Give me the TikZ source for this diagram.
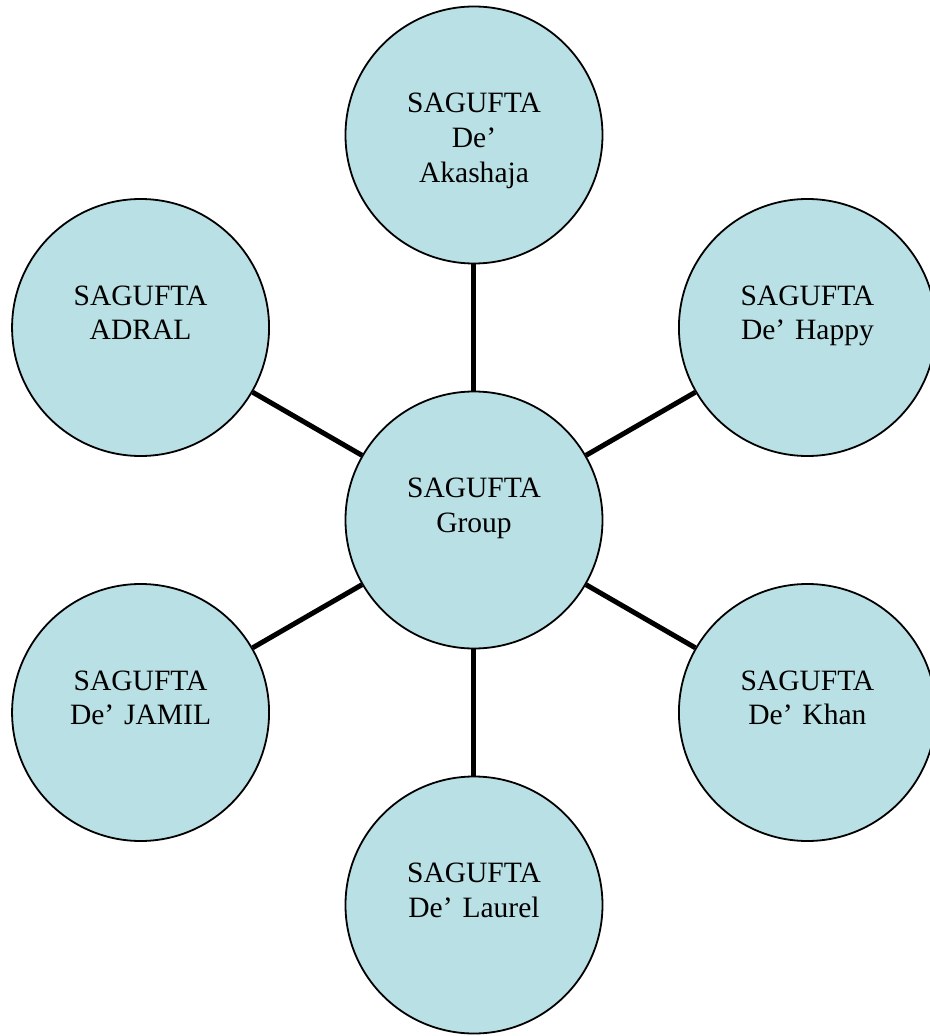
\documentclass[tikz,border=0pt]{standalone}
\usepackage{fontspec}
\setmainfont{Liberation Serif}
\definecolor{sagblue}{RGB}{185,224,228}

\begin{document}
\begin{tikzpicture}[line width=0.1cm,main node/.style={circle,draw,fill=sagblue,line width=0.036cm,minimum size=5.14cm,inner sep=0pt,text width=4.6cm,align=center,text height=0.5cm,text depth=1.4cm,font=\fontsize{16.8}{19.9}\selectfont}]
                \useasboundingbox (-9.48,-10.32) rectangle (9.12,10.4);

                \node[main node] (group) {SAGUFTA\\Group};
                \node[main node] (akashaja) at (90:7.7) {SAGUFTA\\De’\\Akashaja};
                \node[main node] (happy) at (30:7.7) {SAGUFTA\\De’ Happy};
                \node[main node] (khan) at (-30:7.7) {SAGUFTA\\De’ Khan};
                \node[main node] (laurel) at (-90:7.7) {SAGUFTA\\De’ Laurel};
                \node[main node] (jamil) at (210:7.7) {SAGUFTA\\De’ JAMIL};
                \node[main node] (adral) at (150:7.7) {SAGUFTA\\ADRAL};

                \path
                    (group) edge (akashaja)
                    (group) edge (happy)
                    (group) edge (khan)
                    (group) edge (laurel)
                    (group) edge (jamil)
                    (group) edge (adral)
                ;

            \end{tikzpicture}
\end{document}
